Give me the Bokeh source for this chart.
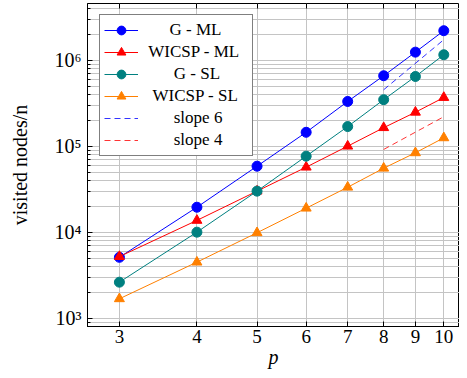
from bokeh.plotting import figure
from bokeh.models import LogAxis, FixedTicker, Legend, LegendItem, Range1d
from bokeh.embed import file_html
from bokeh.resources import INLINE

# ---- data ----
p_vals = [3, 4, 5, 6, 7, 8, 9, 10]
g_ml = [5100, 19500, 58500, 145000, 331000, 659000, 1240000, 2200000]
wicsp_ml = [5200, 13700, 30000, 57000, 100000, 164000, 248000, 368000]
g_sl = [2620, 10000, 30000, 76500, 169000, 347000, 646000, 1156000]
wicsp_sl = [1680, 4480, 9840, 19000, 33300, 55400, 83700, 125000]
slope_x = [8, 10]
slope6 = [453000, 1730000]
slope4 = [91600, 220000]

x_ticks = [3, 4, 5, 6, 7, 8, 9, 10]
y_ticks = [1000, 10000, 100000, 1000000]
y_tick_labels = ["10³", "10⁴", "10⁵", "10⁶"]
y_minor = [m * d for d in [100, 1000, 10000, 100000, 1000000] for m in range(2, 10)]

series_names = ["G - ML", "WICSP - ML", "G - SL", "WICSP - SL", "slope 6", "slope 4"]
# non-breaking spaces used to centre the legend labels like the original
label_pad = [6, 1, 7, 2, 7, 7]

FONT = "Liberation Serif"
GRID = "#c4c4c4"

p = figure(width=459, height=370, x_axis_type="log", y_axis_type="log",
           x_range=Range1d(2.665, 10.6), y_range=Range1d(10 ** 2.903, 10 ** 6.659),
           output_backend="svg", toolbar_location=None,
           min_border_left=87, min_border_right=0, min_border_top=3, min_border_bottom=44)
p.outline_line_color = "black"
p.outline_line_width = 1
p.background_fill_color = "white"
p.border_fill_color = "white"

xt = FixedTicker(ticks=x_ticks, minor_ticks=[])
yt = FixedTicker(ticks=y_ticks, minor_ticks=y_minor)
p.xaxis.ticker = xt
p.yaxis.ticker = yt
p.xgrid.ticker = xt
p.ygrid.ticker = yt

p.xgrid.grid_line_color = GRID
p.ygrid.grid_line_color = GRID
p.ygrid.minor_grid_line_color = GRID

for ax in (p.xaxis[0], p.yaxis[0]):
    ax.major_tick_in = 5
    ax.major_tick_out = 0
    ax.minor_tick_in = 3
    ax.minor_tick_out = 0
    ax.major_tick_line_color = "black"
    ax.minor_tick_line_color = "black"
    ax.axis_line_color = "black"
    ax.major_label_text_font = FONT
    ax.major_label_text_font_size = "19px"
    ax.major_label_text_color = "black"
    ax.axis_label_text_font = FONT
    ax.axis_label_text_font_size = "20px"
    ax.axis_label_text_color = "black"

p.yaxis.major_label_text_font_size = "20px"
p.yaxis.major_label_overrides = {t: l for t, l in zip(y_ticks, y_tick_labels)}
p.xaxis.major_label_overrides = {t: str(t) for t in x_ticks}
p.xaxis.axis_label = "p"
p.xaxis.axis_label_text_font_style = "italic"
p.yaxis.axis_label = "visited nodes/n"
p.yaxis.axis_label_text_font_style = "normal"
p.xaxis.major_label_standoff = 3
p.xaxis.axis_label_standoff = 0
p.yaxis.major_label_standoff = 6
p.yaxis.axis_label_standoff = 21

# top axis with ticks only
top = LogAxis(ticker=xt, major_tick_in=5, major_tick_out=0, minor_tick_in=0, minor_tick_out=0,
              axis_line_color=None, major_label_text_font_size="0px",
              major_label_overrides={t: "" for t in x_ticks})
p.add_layout(top, "above")

BLUE, RED, TEAL, ORANGE = "#0000ff", "#ff0000", "#008080", "#ff8000"

renderers = []
for ys, col, marker in [(g_ml, BLUE, "circle"),
                        (wicsp_ml, RED, "triangle"),
                        (g_sl, TEAL, "circle"),
                        (wicsp_sl, ORANGE, "triangle")]:
    lr = p.line(p_vals, ys, line_color=col, line_width=1)
    sr = p.scatter(p_vals, ys, marker=marker, size=10,
                   fill_color=col, line_color=col)
    renderers.append([lr, sr])

s6 = p.line(slope_x, slope6, line_color=BLUE, line_dash="6 4", line_width=1, line_alpha=0.8)
s4 = p.line(slope_x, slope4, line_color=RED, line_dash="6 4", line_width=1, line_alpha=0.8)
renderers.append([s6])
renderers.append([s4])

items = [LegendItem(label="\u00a0" * pad + name, renderers=rs)
         for name, pad, rs in zip(series_names, label_pad, renderers)]

leg = Legend(items=items, location=(12, 170))
leg.label_text_font = FONT
leg.label_text_font_size = "17px"
leg.label_text_color = "black"
leg.border_line_color = "black"
leg.border_line_width = 1
leg.background_fill_alpha = 1
leg.padding = 4
leg.spacing = 0
leg.margin = 0
leg.glyph_width = 34
leg.glyph_height = 22
leg.label_height = 22
leg.label_width = 104
leg.label_standoff = 6
p.add_layout(leg, "center")

open("out.html", "w").write(file_html(p, INLINE))
